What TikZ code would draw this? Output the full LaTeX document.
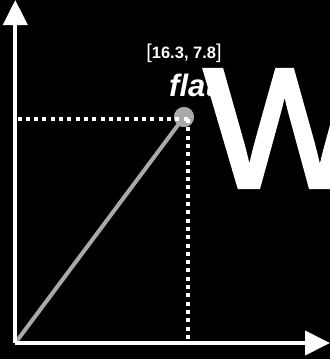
\documentclass[tikz,border=0pt]{standalone}
\usepackage{fontspec}
\setmainfont{Liberation Sans}
\newfontfamily\bigwfont[FakeBold=2.5]{Liberation Sans}
\usetikzlibrary{arrows.meta}
\definecolor{linegray}{HTML}{A9A9A9}
\tikzset{
  axis/.style={draw=white, line width=4pt, -{Triangle[length=25pt,width=24pt]}},
  guide/.style={draw=white, line width=4pt, dash pattern=on 4pt off 4.3pt},
  vec/.style={draw=linegray, line width=4pt},
  pt/.style={circle, fill=linegray, minimum size=20pt, inner sep=0pt},
  txt/.style={text=white, inner sep=0pt}
}
\begin{document}
\begin{tikzpicture}[x=1pt,y=-1pt]
\fill[black] (0,0) rectangle (330,359);
\useasboundingbox (0,0) rectangle (330,359);
\coordinate (O) at (15.3,343);
\coordinate (Ytip) at (15.3,0);
\coordinate (Xtip) at (330,343);
\coordinate (Yfoot) at (17.5,119);
\coordinate (Xfoot) at (188,341);
\node[pt] (P) at (184,117) {};
\draw[vec] (O) -- (P.center);
\node[pt] at (184,117) {};
\draw[guide] (Yfoot) -- (190,119);
\draw[guide] (188,119) -- (Xfoot);
\draw[axis] (O) -- (Ytip);
\draw[axis] (15.3,343) -- (Xtip);
\node[txt, anchor=base] (lab) at (184,58) {{\fontsize{20}{20}\selectfont[}{\fontsize{16.5}{16.5}\selectfont\bfseries 16.3, 7.8}{\fontsize{20}{20}\selectfont]}};
\node[txt, anchor=base west] (flat) at (169,96) {\fontsize{31}{31}\selectfont\bfseries\itshape flat};
\node[txt, anchor=base west] (W) at (204,187) {\fontsize{170}{170}\selectfont\bigwfont W};
\end{tikzpicture}
\end{document}
